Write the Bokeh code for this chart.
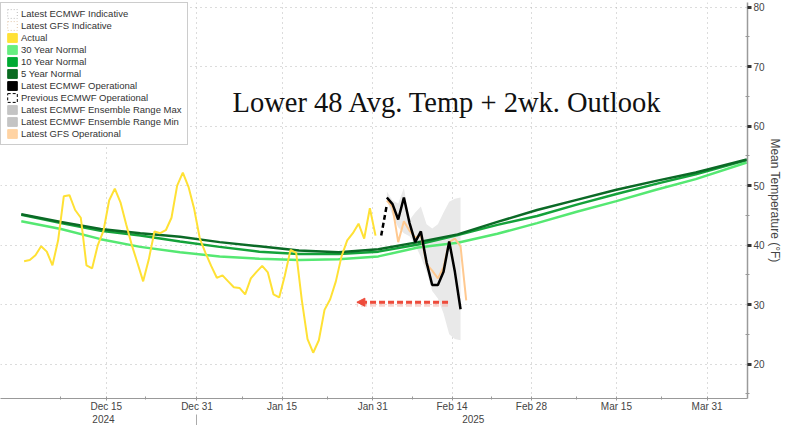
import math
import pandas as pd
from bokeh.plotting import figure
from bokeh.models import (Range1d, FixedTicker, DatetimeAxis, Legend, LegendItem,
                          Label, Arrow, NormalHead)
from bokeh.embed import file_html
from bokeh.resources import INLINE

# ---------------- data ----------------
actual_start = "2024-11-30 12:00"
actual_temp = [
    37.3, 37.5, 38.3, 39.8, 38.9, 36.6, 40.8, 48.2, 48.4, 45.9,
    44.6, 36.6, 36.1, 40.0,
    42.4, 47.5, 49.5, 47.2, 43.5, 40.0, 37.0, 33.9, 37.6, 42.3,
    42.0, 42.5, 44.6, 50.0, 52.2, 49.8, 46.1, 41.1, 38.7, 36.5,
    34.5, 34.9, 33.9, 32.9, 32.8, 31.7, 34.4, 35.5, 36.5, 35.4,
    31.7, 31.2, 34.9, 39.2, 38.7, 30.7, 24.2, 21.9, 24.0, 29.1,
    30.9, 33.9, 38.1, 40.8, 42.0, 43.6, 41.1, 46.2, 41.6]

normal_dates = ["2024-11-30", "2024-12-07", "2024-12-14", "2024-12-21", "2024-12-28",
                "2025-01-04", "2025-01-11", "2025-01-18", "2025-01-25", "2025-02-01",
                "2025-02-08", "2025-02-15", "2025-02-22", "2025-03-01", "2025-03-08",
                "2025-03-15", "2025-03-22", "2025-03-29", "2025-04-07"]
normal_30yr = [44.0, 42.7, 41.0, 39.7, 38.8, 38.1, 37.7, 37.5, 37.6, 38.1,
               39.6, 40.4, 41.9, 43.7, 45.6, 47.4, 49.3, 51.1, 53.9]
normal_10yr = [45.1, 43.7, 42.4, 41.6, 40.6, 39.7, 38.9, 38.5, 38.5, 38.9,
               40.1, 41.7, 43.4, 44.9, 46.8, 48.6, 50.3, 51.9, 54.3]
normal_5yr = [45.2, 43.9, 42.7, 42.0, 41.4, 40.5, 39.8, 39.1, 38.8, 39.3,
              40.5, 41.8, 43.9, 45.9, 47.6, 49.3, 50.8, 52.2, 54.4]

prev_ecmwf_dates = ["2025-02-01 12:00", "2025-02-02 12:00"]
prev_ecmwf = [41.6, 46.8]

forecast_start = "2025-02-02 12:00"
ecmwf_op = [48.0, 46.9, 44.3, 48.0, 43.7, 40.5, 42.3, 37.1, 33.3, 33.3, 35.5, 40.6, 35.5, 29.2]
ens_max = [49.0, 47.5, 47.0, 49.6, 44.2, 45.5, 46.5, 43.5, 42.8, 43.5, 45.5, 47.3, 47.8, 48.0]
ens_min = [47.5, 45.0, 43.0, 42.0, 41.5, 40.0, 38.0, 35.5, 32.3, 31.0, 28.5, 25.0, 24.2, 24.0]
gfs_op = [47.5, 46.4, 40.5, 44.0, 42.4, 41.3, 41.6, 36.8, 35.7, 34.4, 36.3, 40.5, 41.1, 39.8, 30.7]

x_tick_dates = ["2024-12-15", "2024-12-31", "2025-01-15", "2025-01-31",
                "2025-02-14", "2025-02-28", "2025-03-15", "2025-03-31"]
x_tick_labels = ["Dec 15", "Dec 31", "Jan 15", "Jan 31", "Feb 14", "Feb 28", "Mar 15", "Mar 31"]
x_minor_dates = ["2024-12-07", "2024-12-22", "2025-01-08", "2025-01-23",
                 "2025-02-07", "2025-02-21", "2025-03-08", "2025-03-23"]
year_label_dates = ["2024-12-14 12:00", "2025-02-17 18:00"]
year_labels = ["2024", "2025"]
year_boundary = "2024-12-31"
y_ticks = [20, 30, 40, 50, 60, 70, 80]
y_minor = [15, 25, 35, 45, 55, 65, 75]
x_start, x_end = "2024-11-26 08:00", "2025-04-07 03:00"
y_start, y_end = 14.2, 80.8

arrow_from, arrow_to, arrow_level = "2025-02-13 07:00", "2025-01-28 05:00", 30.4
title_text = "Lower 48 Avg. Temp + 2wk. Outlook"
title_date, title_level = "2025-02-13 05:00", 64.0

legend_labels = ["Latest ECMWF Indicative", "Latest GFS Indicative", "Actual",
                 "30 Year Normal", "10 Year Normal", "5 Year Normal",
                 "Latest ECMWF Operational", "Previous ECMWF Operational",
                 "Latest ECMWF Ensemble Range Max", "Latest ECMWF Ensemble Range Min",
                 "Latest GFS Operational"]

# ---------------- helpers ----------------
def ms(s):
    return pd.Timestamp(s).value / 1e6

actual_x = pd.date_range(actual_start, periods=len(actual_temp), freq="D")
normal_x = pd.to_datetime(normal_dates)
prev_x = pd.to_datetime(prev_ecmwf_dates)
ecmwf_x = pd.date_range(forecast_start, periods=len(ecmwf_op), freq="D")
gfs_x = pd.date_range(forecast_start, periods=len(gfs_op), freq="D")

YELLOW = "#FFE135"
G30 = "#55E872"
G10 = "#14A23A"
G5 = "#0B6A26"
GFS = "#FFC990"
FONT = "Liberation Sans"

p = figure(width=784, height=425, x_axis_type="datetime", y_axis_location="right",
           x_range=Range1d(ms(x_start), ms(x_end)), y_range=Range1d(y_start, y_end),
           output_backend="svg", toolbar_location=None,
           min_border_left=0, min_border_top=2, min_border_bottom=0, min_border_right=0)
p.outline_line_color = None
p.background_fill_color = "white"

# grids
for g in (p.xgrid, p.ygrid):
    g.grid_line_color = "#b8b8b8"
    g.grid_line_dash = "1 4"
    g.grid_line_width = 1

# x axis
xax = p.xaxis[0]
xax.ticker = FixedTicker(ticks=[ms(d) for d in x_tick_dates],
                         minor_ticks=[ms(d) for d in x_minor_dates])
xax.major_label_overrides = {ms(d): lab for d, lab in zip(x_tick_dates, x_tick_labels)}
xax.axis_line_color = "#999999"
xax.major_tick_line_color = "#999999"
xax.minor_tick_line_color = "#999999"
xax.major_tick_in = 2
xax.major_tick_out = 2
xax.minor_tick_in = 2
xax.minor_tick_out = 1
xax.major_label_standoff = 0
xax.major_label_text_font = FONT
xax.major_label_text_font_size = "10px"
xax.major_label_text_color = "#444444"

yr_axis = DatetimeAxis(
    ticker=FixedTicker(ticks=[ms(d) for d in year_label_dates], minor_ticks=[ms(year_boundary)]),
    major_label_overrides={ms(d): lab for d, lab in zip(year_label_dates, year_labels)},
    axis_line_color=None, major_tick_line_color=None, major_tick_in=0, major_tick_out=0,
    minor_tick_in=0, minor_tick_out=12, minor_tick_line_color="#aaaaaa",
    major_label_standoff=-12, major_label_text_font=FONT, major_label_text_font_size="10px",
    major_label_text_color="#444444")
p.add_layout(yr_axis, "below")

# y axis
yax = p.yaxis[0]
yax.ticker = FixedTicker(ticks=y_ticks, minor_ticks=y_minor)
yax.axis_line_color = "#9a9a9a"
yax.axis_line_width = 1.5
yax.major_tick_in = 0
yax.major_tick_out = 4
yax.major_tick_line_width = 3
yax.major_tick_line_color = "#333333"
yax.minor_tick_in = 2
yax.minor_tick_out = 2
yax.minor_tick_line_color = "#999999"
yax.major_label_standoff = 2
yax.major_label_text_font = FONT
yax.major_label_text_font_size = "10px"
yax.major_label_text_color = "#444444"
yax.axis_label = "Mean Temperature (\u00b0F)"
yax.axis_label_text_font = FONT
yax.axis_label_text_font_style = "normal"
yax.axis_label_text_font_size = "12px"
yax.axis_label_text_color = "#444444"
yax.axis_label_standoff = 0

# ensemble band
p.varea(x=ecmwf_x, y1=ens_min, y2=ens_max, fill_color="#e9e9e9", fill_alpha=1.0)

# normals
p.line(normal_x, normal_30yr, line_color=G30, line_width=2.5)
p.line(normal_x, normal_10yr, line_color=G10, line_width=2.5)
p.line(normal_x, normal_5yr, line_color=G5, line_width=2.5)

# actual
p.line(actual_x, actual_temp, line_color=YELLOW, line_width=2)

# forecasts
p.line(gfs_x, gfs_op, line_color=GFS, line_width=2)
p.line(ecmwf_x, ecmwf_op, line_color="black", line_width=2.5)
p.line(prev_x, prev_ecmwf, line_color="black", line_width=2.5, line_dash="5 3")

# arrow annotation (with soft shadow)
p.add_layout(Arrow(x_start=ms(arrow_from), y_start=arrow_level - 0.45,
                   x_end=ms(arrow_to), y_end=arrow_level - 0.45, end=None,
                   line_color="#F4B2A8", line_alpha=0.55, line_width=4, line_dash="6 3"))
p.add_layout(Arrow(x_start=ms(arrow_from), y_start=arrow_level,
                   x_end=ms(arrow_to), y_end=arrow_level,
                   line_color="#EE4B3B", line_width=3, line_dash="6 3",
                   end=NormalHead(size=8, fill_color="#EE4B3B", line_color="#EE4B3B")))

# title
p.add_layout(Label(x=ms(title_date), y=title_level, text=title_text, text_align="center",
                   text_baseline="alphabetic", text_font="Liberation Serif",
                   text_font_size="28.5px", text_color="#111111"))

# legend swatches (renderers with no drawable point, only used for the legend)
NAN = [math.nan]
def swatch(fill, line=None, dash="solid"):
    return p.quad(left=NAN, right=NAN, top=NAN, bottom=NAN, fill_color=fill,
                  line_color=line if line else fill, line_dash=dash, line_width=1)

sw = [
    swatch("white", "#bbbbbb", "1 2"),
    swatch("white", "#e0c4a6", "1 2"),
    swatch(YELLOW),
    swatch("#66EE80"),
    swatch("#00AA33"),
    swatch("#0A6B22"),
    swatch("black"),
    swatch("white", "black", "3 2"),
    swatch("#c4c4c4"),
    swatch("#c4c4c4"),
    swatch("#FFD3A3"),
]
legend = Legend(items=[LegendItem(label=lab, renderers=[r]) for lab, r in zip(legend_labels, sw)],
                location="top_left", margin=0, padding=5, spacing=1,
                glyph_width=12, glyph_height=11, label_height=10, label_standoff=3,
                label_text_font=FONT, label_text_font_size="9.5px", label_text_color="#333333",
                border_line_color="#999999", background_fill_color="white",
                background_fill_alpha=1.0)
p.add_layout(legend)

open("out.html", "w").write(file_html(p, INLINE))
